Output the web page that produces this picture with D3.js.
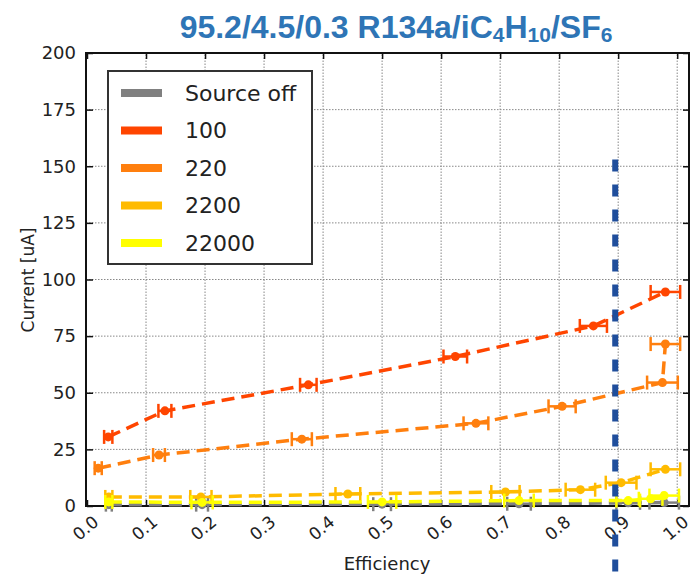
<!DOCTYPE html>
<html>
<head>
<meta charset="utf-8">
<script src="https://cdn.jsdelivr.net/npm/d3@7"></script>
<style>
    body { margin: 0; background: #fff; }
    svg { display: block; }
    .tick text { font-family: "DejaVu Sans", sans-serif; fill: #222; }
</style>
</head>
<body>
<svg id="chart" width="698" height="576"></svg>
<script>
// values
var seriesNames = ['Source off', '100', '220', '2200', '22000'];
var seriesColors = ['#808080', '#ff4500', '#ff7f0e', '#ffbb00', '#ffff00'];

var effOff = [0.037, 0.195, 0.5, 0.732, 0.917, 0.978];
var curOff = [0.6, 0.6, 0.8, 1.0, 1.4, 1.5];
var errOff = [0.005, 0.01, 0.015, 0.02, 0.02, 0.025];

var eff100 = [0.036, 0.132, 0.375, 0.624, 0.858, 0.98];
var cur100 = [30.5, 42, 53.5, 66, 79.5, 94.5];
var err100 = [0.007, 0.011, 0.014, 0.02, 0.023, 0.025];

var eff220 = [0.019, 0.122, 0.364, 0.659, 0.805, 0.975, 0.98];
var cur220 = [16.7, 22.5, 29.5, 36.5, 44, 54.5, 71.5];
var err220 = [0.006, 0.01, 0.017, 0.021, 0.023, 0.026, 0.025];

var eff2200 = [0.037, 0.193, 0.442, 0.709, 0.836, 0.905, 0.98];
var cur2200 = [4, 4, 5.3, 6.2, 7.2, 10.3, 16.2];
var err2200 = [0.006, 0.018, 0.021, 0.024, 0.025, 0.026, 0.025];

var eff22000 = [0.037, 0.195, 0.5, 0.732, 0.917, 0.955, 0.978];
var cur22000 = [1.8, 1.6, 1.8, 2.4, 2.4, 3.2, 4.6];
var err22000 = [0.006, 0.018, 0.024, 0.025, 0.02, 0.02, 0.025];

var xTicks = [0, 0.1, 0.2, 0.3, 0.4, 0.5, 0.6, 0.7, 0.8, 0.9, 1.0];
var yTicks = [0, 25, 50, 75, 100, 125, 150, 175, 200];

// blue cut line
var cutEff = 0.895;
var cutCur = [-30, 153];

var allEff = [effOff, eff100, eff220, eff2200, eff22000];
var allCur = [curOff, cur100, cur220, cur2200, cur22000];
var allErr = [errOff, err100, err220, err2200, err22000];

var svg = d3.select('#chart');
var x = d3.scaleLinear().domain([0, 1.02]).range([87, 689]);
var y = d3.scaleLinear().domain([0, 200]).range([506, 53]);

// grid
var grid = svg.append('g');
grid.selectAll('line.gx').data(xTicks.slice(1)).enter().append('line')
    .attr('x1', function (d) { return x(d); }).attr('x2', function (d) { return x(d); })
    .attr('y1', y(0)).attr('y2', y(200))
    .attr('stroke', '#888').attr('stroke-width', 1).attr('stroke-dasharray', '1.5,1.5');
grid.selectAll('line.gy').data(yTicks.slice(1, -1)).enter().append('line')
    .attr('y1', function (d) { return y(d); }).attr('y2', function (d) { return y(d); })
    .attr('x1', x(0) - 1).attr('x2', x(1.02))
    .attr('stroke', '#888').attr('stroke-width', 1).attr('stroke-dasharray', '1.5,1.5');

// axes with inward ticks
var xAxis = svg.append('g').attr('transform', 'translate(0,' + y(0) + ')')
    .call(d3.axisBottom(x).tickValues(xTicks).tickSizeInner(-6).tickSizeOuter(0).tickFormat(d3.format('.1f')));
xAxis.selectAll('.tick text')
    .attr('font-size', 17)
    .attr('text-anchor', 'middle')
    .attr('dy', null).attr('y', null)
    .attr('dominant-baseline', 'central')
    .attr('transform', 'translate(-2,22) rotate(-40)');

var yAxis = svg.append('g').attr('transform', 'translate(' + x(0) + ',0)')
    .call(d3.axisLeft(y).tickValues(yTicks).tickSizeInner(-6).tickSizeOuter(0));
yAxis.selectAll('.tick text').attr('font-size', 18).attr('x', -11);

svg.append('g').attr('transform', 'translate(0,' + y(200) + ')')
    .call(d3.axisTop(x).tickValues(xTicks).tickSizeInner(-6).tickSizeOuter(0).tickFormat(''));
svg.append('g').attr('transform', 'translate(' + x(1.02) + ',0)')
    .call(d3.axisRight(y).tickValues(yTicks).tickSizeInner(-6).tickSizeOuter(0).tickFormat(''));
svg.selectAll('.domain').remove();
svg.selectAll('.tick line').attr('stroke', '#111').attr('stroke-width', 1.5);

svg.append('rect')
    .attr('x', x(0) - 1).attr('y', y(200))
    .attr('width', x(1.02) - x(0) + 1).attr('height', y(0) - y(200))
    .attr('fill', 'none').attr('stroke', '#111').attr('stroke-width', 2);

// series
var line = d3.line().x(function (d) { return x(d[0]); }).y(function (d) { return y(d[1]); });

seriesNames.forEach(function (name, s) {
    var pts = allEff[s].map(function (e, i) { return [e, allCur[s][i], allErr[s][i]]; });
    var g = svg.append('g');
    var col = seriesColors[s];

    g.append('path').datum(pts)
        .attr('d', line)
        .attr('fill', 'none')
        .attr('stroke', col)
        .attr('stroke-width', 3.5)
        .attr('stroke-dasharray', '13,7');

    var bars = g.selectAll('g.err').data(pts).enter().append('g');
    bars.append('line')
        .attr('x1', function (d) { return x(d[0] - d[2]); })
        .attr('x2', function (d) { return x(d[0] + d[2]); })
        .attr('y1', function (d) { return y(d[1]); })
        .attr('y2', function (d) { return y(d[1]); })
        .attr('stroke', col).attr('stroke-width', 2.5);
    [-1, 1].forEach(function (sign) {
        bars.append('line')
            .attr('x1', function (d) { return x(d[0] + sign * d[2]); })
            .attr('x2', function (d) { return x(d[0] + sign * d[2]); })
            .attr('y1', function (d) { return y(d[1]) - 7; })
            .attr('y2', function (d) { return y(d[1]) + 7; })
            .attr('stroke', col).attr('stroke-width', 2.5);
    });
    bars.append('circle')
        .attr('cx', function (d) { return x(d[0]); })
        .attr('cy', function (d) { return y(d[1]); })
        .attr('r', 4.5)
        .attr('fill', col);
});

// legend
var lg = svg.append('g');
lg.append('rect').attr('x', 108).attr('y', 71).attr('width', 204).attr('height', 193)
    .attr('fill', '#fff').attr('stroke', '#333').attr('stroke-width', 2);
seriesNames.forEach(function (name, s) {
    var ly = 93 + s * 37.5;
    lg.append('line').attr('x1', 121).attr('x2', 162).attr('y1', ly).attr('y2', ly)
        .attr('stroke', seriesColors[s]).attr('stroke-width', 8);
    lg.append('text').attr('x', 185).attr('y', ly)
        .attr('dominant-baseline', 'central')
        .attr('font-family', 'DejaVu Sans, sans-serif').attr('font-size', 22)
        .attr('fill', '#222').text(name);
});

// cut line
svg.append('line')
    .attr('x1', x(cutEff)).attr('x2', x(cutEff))
    .attr('y1', y(cutCur[1])).attr('y2', y(cutCur[0]))
    .attr('stroke', '#1f4e9c').attr('stroke-width', 6)
    .attr('stroke-dasharray', '12,13');

// axis titles
svg.append('text').attr('x', 387).attr('y', 570)
    .attr('text-anchor', 'middle')
    .attr('font-family', 'DejaVu Sans, sans-serif').attr('font-size', 18)
    .attr('fill', '#222').text('Efficiency');
svg.append('text')
    .attr('transform', 'translate(34,280) rotate(-90)')
    .attr('text-anchor', 'middle')
    .attr('font-family', 'DejaVu Sans, sans-serif').attr('font-size', 17)
    .attr('fill', '#222').text('Current [uA]');

// title with subscripts
var title = svg.append('text').attr('x', 396).attr('y', 38)
    .attr('text-anchor', 'middle')
    .attr('font-family', 'Liberation Sans, Arial, sans-serif')
    .attr('font-weight', 'bold').attr('font-size', 32)
    .attr('fill', '#2e75b6');
var parts = [['95.2/4.5/0.3 R134a/iC', 0], ['4', 1], ['H', 0], ['10', 1], ['/SF', 0], ['6', 1]];
parts.forEach(function (p, i) {
    var t = title.append('tspan').text(p[0]);
    if (p[1]) {
        t.attr('font-size', 21).attr('dy', 4);
    } else if (i > 0) {
        t.attr('dy', -4);
    }
});
</script>
</body>
</html>
